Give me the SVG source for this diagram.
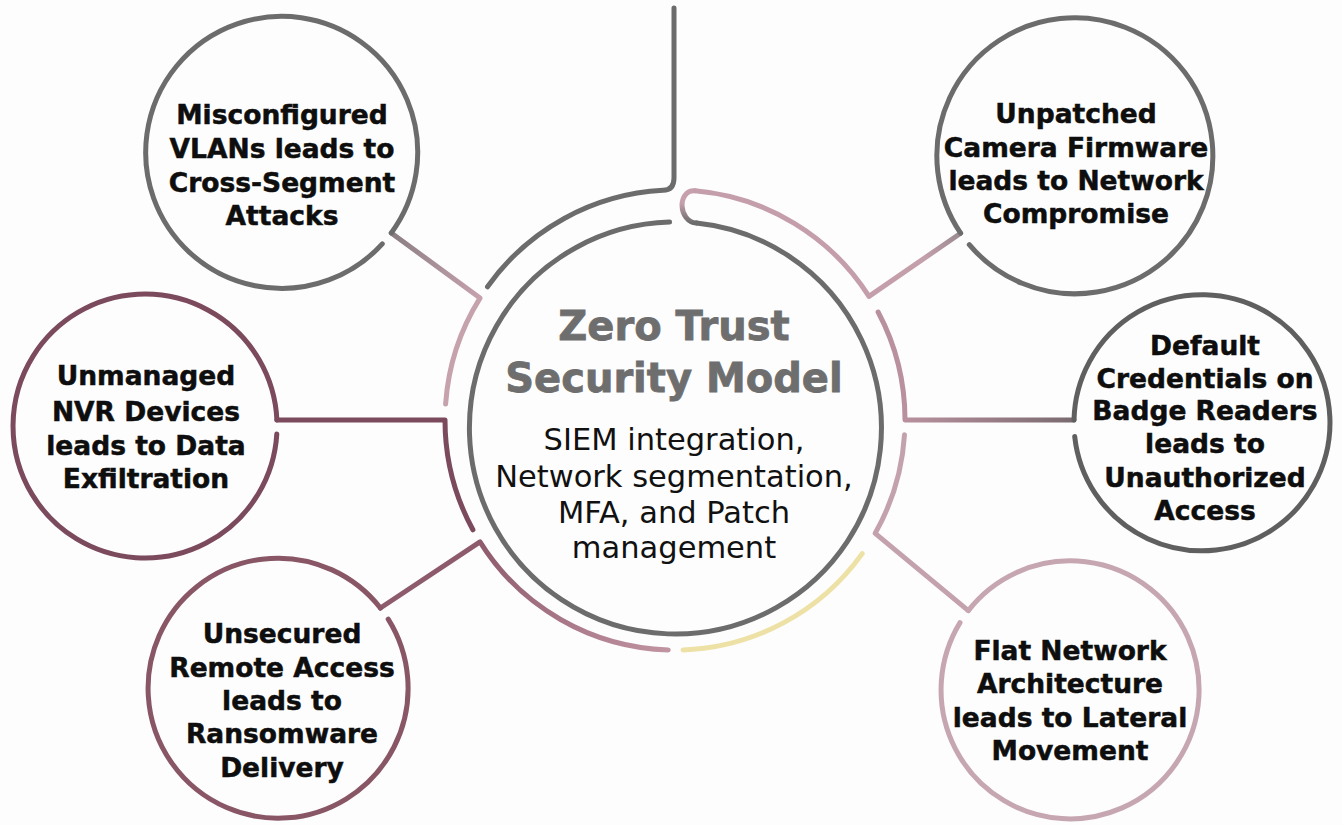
<svg xmlns="http://www.w3.org/2000/svg" width="1342" height="825" viewBox="0 0 1342 825">
  <defs>
    <style>
      .ln{fill:none;stroke-width:5;stroke-linecap:round;stroke-linejoin:round}
      .gray{stroke:#6c6c6c}
      .lbl{font-family:"DejaVu Sans","Liberation Sans",sans-serif;font-weight:700;font-size:26.5px;fill:#0e0e0e;stroke:#0e0e0e;stroke-width:0.5px;text-anchor:middle}
      .title{font-family:"DejaVu Sans","Liberation Sans",sans-serif;font-weight:700;font-size:40px;fill:#6e6e6e;stroke:#6e6e6e;stroke-width:0.8px;text-anchor:middle}
      .sub{font-family:"DejaVu Sans","Liberation Sans",sans-serif;font-weight:400;font-size:30.5px;fill:#111;text-anchor:middle}
    </style>
    <linearGradient id="gVlan" gradientUnits="userSpaceOnUse" x1="391" y1="233" x2="480" y2="298">
      <stop offset="0" stop-color="#8a7e82"/>
      <stop offset="1" stop-color="#c6a2ad"/>
    </linearGradient>
    <linearGradient id="gUnp" gradientUnits="userSpaceOnUse" x1="960" y1="233" x2="869" y2="296">
      <stop offset="0" stop-color="#9a8a90"/>
      <stop offset="0.4" stop-color="#c4a0ab"/>
      <stop offset="1" stop-color="#c49eaa"/>
    </linearGradient>
    <linearGradient id="gDef" gradientUnits="userSpaceOnUse" x1="1074" y1="420" x2="905" y2="420">
      <stop offset="0" stop-color="#7a6a70"/>
      <stop offset="1" stop-color="#b8909e"/>
    </linearGradient>
    <linearGradient id="gRem" gradientUnits="userSpaceOnUse" x1="480" y1="542" x2="668" y2="650">
      <stop offset="0" stop-color="#8e5b6c"/>
      <stop offset="1" stop-color="#c194a2"/>
    </linearGradient>
    <linearGradient id="gHook" gradientUnits="userSpaceOnUse" x1="0" y1="223" x2="0" y2="203">
      <stop offset="0" stop-color="#6c6c6c"/>
      <stop offset="1" stop-color="#c6a0ac"/>
    </linearGradient>
  </defs>

  <rect width="1342" height="825" fill="#fdfdfd"/>

  <!-- ring segments and links from the hub to each node -->
  <g id="connectors">
    <!-- feed line from the top, bending into the upper-left ring arc -->
    <path class="ln gray" d="M674,8 L674,178 Q674,190.3 663,190.3 A230,230 0 0 0 487.5,286.8"/>
    <!-- VLAN link -->
    <path class="ln" stroke="url(#gVlan)" d="M445.6,404 A230,230 0 0 1 480,298.1 L391.3,232.9"/>
    <!-- NVR link -->
    <path class="ln" stroke="#7b4a5d" d="M472.9,529.8 A230,230 0 0 1 445,420 L276.9,420"/>
    <!-- remote access link -->
    <path class="ln" stroke="url(#gRem)" d="M668.2,649.9 A230,230 0 0 1 480,541.9 L380.4,608"/>
    <!-- decorative lower arc -->
    <path class="ln" stroke="#eee1a6" d="M683,649.9 A230,230 0 0 0 862.2,553.6"/>
    <!-- flat network link -->
    <path class="ln" stroke="#c4a2ad" d="M904.5,434.8 A230,230 0 0 1 875.2,533.3 L968.3,610.6"/>
    <!-- badge reader link -->
    <path class="ln" stroke="url(#gDef)" d="M878.1,312 A230,230 0 0 1 905,420 L1074,420.1"/>
    <!-- hook from the hub circle out to the upper-right ring arc -->
    <path class="ln" stroke="url(#gHook)" d="M696.5,223.1 C678,221.6 677,189.6 695,190.8"/>
    <!-- camera firmware link -->
    <path class="ln" stroke="url(#gUnp)" d="M695,190.8 A230,230 0 0 1 869,296.4 L960.6,233.2"/>
  </g>

  <g id="hub">
    <path class="ln gray" stroke-width="5.5" d="M669.6,222.1 A206,206 0 1 0 696.5,223.1"/>
    <text class="title" x="674" y="340">Zero Trust</text>
    <text class="title" x="674" y="392">Security Model</text>
    <text class="sub" x="674" y="450">SIEM integration,</text>
    <text class="sub" x="674" y="487">Network segmentation,</text>
    <text class="sub" x="674" y="523">MFA, and Patch</text>
    <text class="sub" x="674" y="558">management</text>
  </g>

  <g id="node-vlan">
    <path class="ln gray" d="M391.3,232.9 A136,136 0 1 0 382.3,243.9"/>
    <text class="lbl" x="282" y="124">Misconfigured</text>
    <text class="lbl" x="282" y="158">VLANs leads to</text>
    <text class="lbl" x="282" y="192">Cross-Segment</text>
    <text class="lbl" x="282" y="225">Attacks</text>
  </g>

  <g id="node-nvr">
    <path class="ln" stroke="#7b4a5d" d="M276.9,420 A132,132 0 1 0 276.8,434"/>
    <text class="lbl" x="146" y="385">Unmanaged</text>
    <text class="lbl" x="146" y="421">NVR Devices</text>
    <text class="lbl" x="146" y="455">leads to Data</text>
    <text class="lbl" x="146" y="488">Exfiltration</text>
  </g>

  <g id="node-remote">
    <path class="ln" stroke="#895666" d="M380.4,608 A130,130 0 1 0 388.2,619.1"/>
    <text class="lbl" x="282" y="643">Unsecured</text>
    <text class="lbl" x="282" y="677">Remote Access</text>
    <text class="lbl" x="282" y="710">leads to</text>
    <text class="lbl" x="282" y="743">Ransomware</text>
    <text class="lbl" x="282" y="777">Delivery</text>
  </g>

  <g id="node-flat">
    <path class="ln" stroke="#c6a6b0" d="M968.3,610.6 A129,129 0 1 1 960,622.6"/>
    <text class="lbl" x="1070" y="660">Flat Network</text>
    <text class="lbl" x="1070" y="693">Architecture</text>
    <text class="lbl" x="1070" y="727">leads to Lateral</text>
    <text class="lbl" x="1070" y="760">Movement</text>
  </g>

  <g id="node-badge">
    <path class="ln" stroke="#5f5f5f" d="M1074,420.1 A128,128 0 1 1 1074.7,436.4"/>
    <text class="lbl" x="1205" y="355">Default</text>
    <text class="lbl" x="1205" y="388">Credentials on</text>
    <text class="lbl" x="1205" y="420">Badge Readers</text>
    <text class="lbl" x="1205" y="453">leads to</text>
    <text class="lbl" x="1205" y="487">Unauthorized</text>
    <text class="lbl" x="1205" y="520">Access</text>
  </g>

  <g id="node-camera">
    <path class="ln gray" d="M960.6,233.2 A138,138 0 1 1 969.3,244.7"/>
    <text class="lbl" x="1076" y="123">Unpatched</text>
    <text class="lbl" x="1076" y="157">Camera Firmware</text>
    <text class="lbl" x="1076" y="190">leads to Network</text>
    <text class="lbl" x="1076" y="223">Compromise</text>
  </g>
</svg>
